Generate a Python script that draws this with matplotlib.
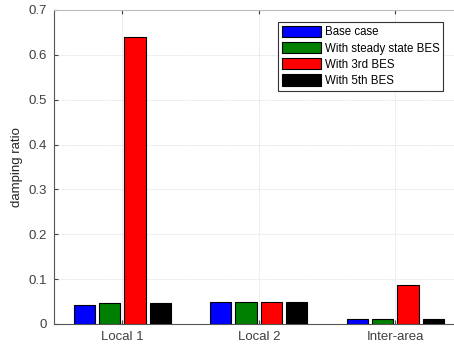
import numpy as np
import matplotlib.pyplot as plt

plt.rcParams['font.family'] = ['Liberation Sans', 'DejaVu Sans']

categories = ["Local 1", "Local 2", "Inter-area"]
series = ["Base case", "With steady state BES", "With 3rd BES", "With 5th BES"]
base_case = [0.042, 0.050, 0.012]
steady_bes = [0.047, 0.050, 0.011]
bes_3rd = [0.640, 0.050, 0.086]
bes_5th = [0.047, 0.050, 0.012]
colors = ["#0000ff", "#008000", "#ff0000", "#000000"]

fig = plt.figure(figsize=(4.54, 3.48), dpi=100)
ax = fig.add_axes([54 / 454, 1 - 324 / 348, 409.5 / 454, 314 / 348])

x = np.arange(1, len(categories) + 1)
offsets = [-1.5, -0.5, 0.5, 1.5]
for vals, name, c, o in zip([base_case, steady_bes, bes_3rd, bes_5th], series, colors, offsets):
    ax.bar(x + o * 0.186, vals, width=0.155, color=c, edgecolor="black", linewidth=0.8, label=name, zorder=3)

ax.set_xlim(0.5, 3.5)
ax.set_ylim(0, 0.7)
ax.set_xticks(x)
ax.set_xticklabels(categories)
ax.set_yticks(np.arange(0, 0.71, 0.1))
ax.set_yticklabels(["0", "0.1", "0.2", "0.3", "0.4", "0.5", "0.6", "0.7"])
ax.set_ylabel("damping ratio", fontsize=9.5, color="#262626", labelpad=4)
ax.grid(True, color="#e3e3e3", linewidth=0.6, linestyle=(0, (2, 1)), zorder=0)
ax.tick_params(direction="in", top=True, right=True, labelsize=9.5, colors="#404040", length=3, pad=5)
for s in ax.spines.values():
    s.set_color("#555555")
    s.set_linewidth(0.8)
ax.spines["top"].set_color("#bbbbbb")

leg = ax.legend(loc="upper left", bbox_to_anchor=(224 / 409.5, 302 / 314), borderaxespad=0,
                fontsize=8.3, handlelength=3.4, handleheight=1.1, handletextpad=0.3,
                borderpad=0.35, labelspacing=0.32, fancybox=False, framealpha=1)
leg.get_frame().set_edgecolor("#333333")
leg.get_frame().set_linewidth(0.8)

fig.savefig("out.png", dpi=100)
